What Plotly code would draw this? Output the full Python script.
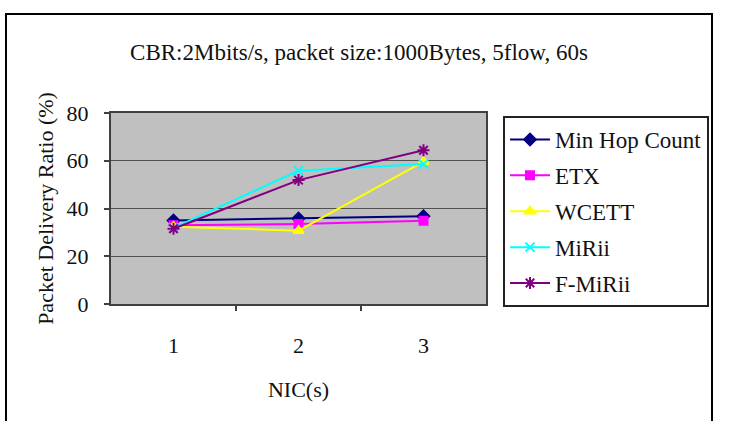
import plotly.graph_objects as go

nics = [1, 2, 3]
tick_labels = ["1", "2", "3"]
series_names = ["Min Hop Count", "ETX", "WCETT", "MiRii", "F-MiRii"]
min_hop = [35.0, 35.8, 36.8]
etx = [33.0, 33.5, 34.9]
wcett = [32.4, 30.7, 59.6]
mirii = [31.9, 55.8, 58.6]
f_mirii = [31.5, 51.9, 64.4]
values = [min_hop, etx, wcett, mirii, f_mirii]

colors = ["#000080", "#FF00FF", "#FFFF00", "#00FFFF", "#800080"]
symbols = ["diamond", "square", "triangle-up", "x-thin", "asterisk"]
sizes = [9, 8, 9, 9, 10]

FONT = "Liberation Serif, Times New Roman, serif"
TXT = "#111111"
W, H = 731, 421
L, R, T, B = 111, 486, 113, 304  # plot area in pixels

def px_x(p):
    return (p - L) / (R - L)

def px_y(p):
    return (B - p) / (B - T)

fig = go.Figure()
for name, vals, c, s, sz in zip(series_names, values, colors, symbols, sizes):
    line_marker = dict(color=c, size=sz, symbol=s, line=dict(color=c, width=2))
    fig.add_trace(go.Scatter(
        x=nics, y=vals, name=name, mode="lines+markers",
        line=dict(color=c, width=2), marker=line_marker,
        legendgroup=name,
    ))

# invisible trace on overlay axis to show category separator ticks
fig.add_trace(go.Scatter(x=[nics[0]], y=[min_hop[0]], xaxis="x2", mode="markers",
                         marker=dict(opacity=0), showlegend=False, hoverinfo="skip"))

fig.update_layout(
    width=W, height=H,
    margin=dict(l=L, r=W - R, t=T, b=H - B),
    paper_bgcolor="white",
    plot_bgcolor="#C0C0C0",
    font=dict(family=FONT, size=22, color=TXT),
    title=dict(text="CBR:2Mbits/s, packet size:1000Bytes, 5flow, 60s",
               x=359 / W, xref="container", xanchor="center",
               y=1 - 52 / H, yref="container", yanchor="middle",
               font=dict(family=FONT, size=23, color=TXT)),
    xaxis=dict(range=[0.5, 3.5], tickvals=nics, ticktext=tick_labels,
               ticks="", showgrid=False, zeroline=False,
               showline=True, linecolor="#404040", linewidth=2, mirror=True,
               ticklabelstandoff=21,
               tickfont=dict(family=FONT, size=22, color=TXT),
               title=dict(text="NIC(s)", standoff=24,
                          font=dict(family=FONT, size=22, color=TXT))),
    xaxis2=dict(range=[0.5, 3.5], overlaying="x", anchor="y",
                tickvals=[1.5, 2.5], showticklabels=False, ticks="outside",
                ticklen=6, tickwidth=2, tickcolor="#404040", showgrid=False,
                zeroline=False, side="bottom", showline=False),
    yaxis=dict(range=[0, 80], tickvals=[0, 20, 40, 60, 80], ticks="outside",
               ticklen=5, tickwidth=2, tickcolor="#404040",
               showgrid=True, gridcolor="#505050", gridwidth=1,
               zeroline=False, showline=True, linecolor="#404040", linewidth=2,
               mirror=True, ticklabelstandoff=11,
               tickfont=dict(family=FONT, size=22, color=TXT),
               title=dict(text="Packet Delivery Ratio (%)", standoff=7,
                          font=dict(family=FONT, size=22, color=TXT))),
    legend=dict(x=px_x(503), y=px_y(116), xanchor="left", yanchor="top",
                bordercolor="#222222", borderwidth=2, bgcolor="white",
                font=dict(family=FONT, size=23, color=TXT),
                tracegroupgap=3, itemwidth=40, maxheight=1.0),
    shapes=[dict(type="rect", xref="paper", yref="paper",
                 x0=px_x(6), x1=px_x(712), y0=px_y(430), y1=px_y(14),
                 line=dict(color="black", width=2), layer="below")],
    showlegend=True,
)

fig.write_html("out.html")
